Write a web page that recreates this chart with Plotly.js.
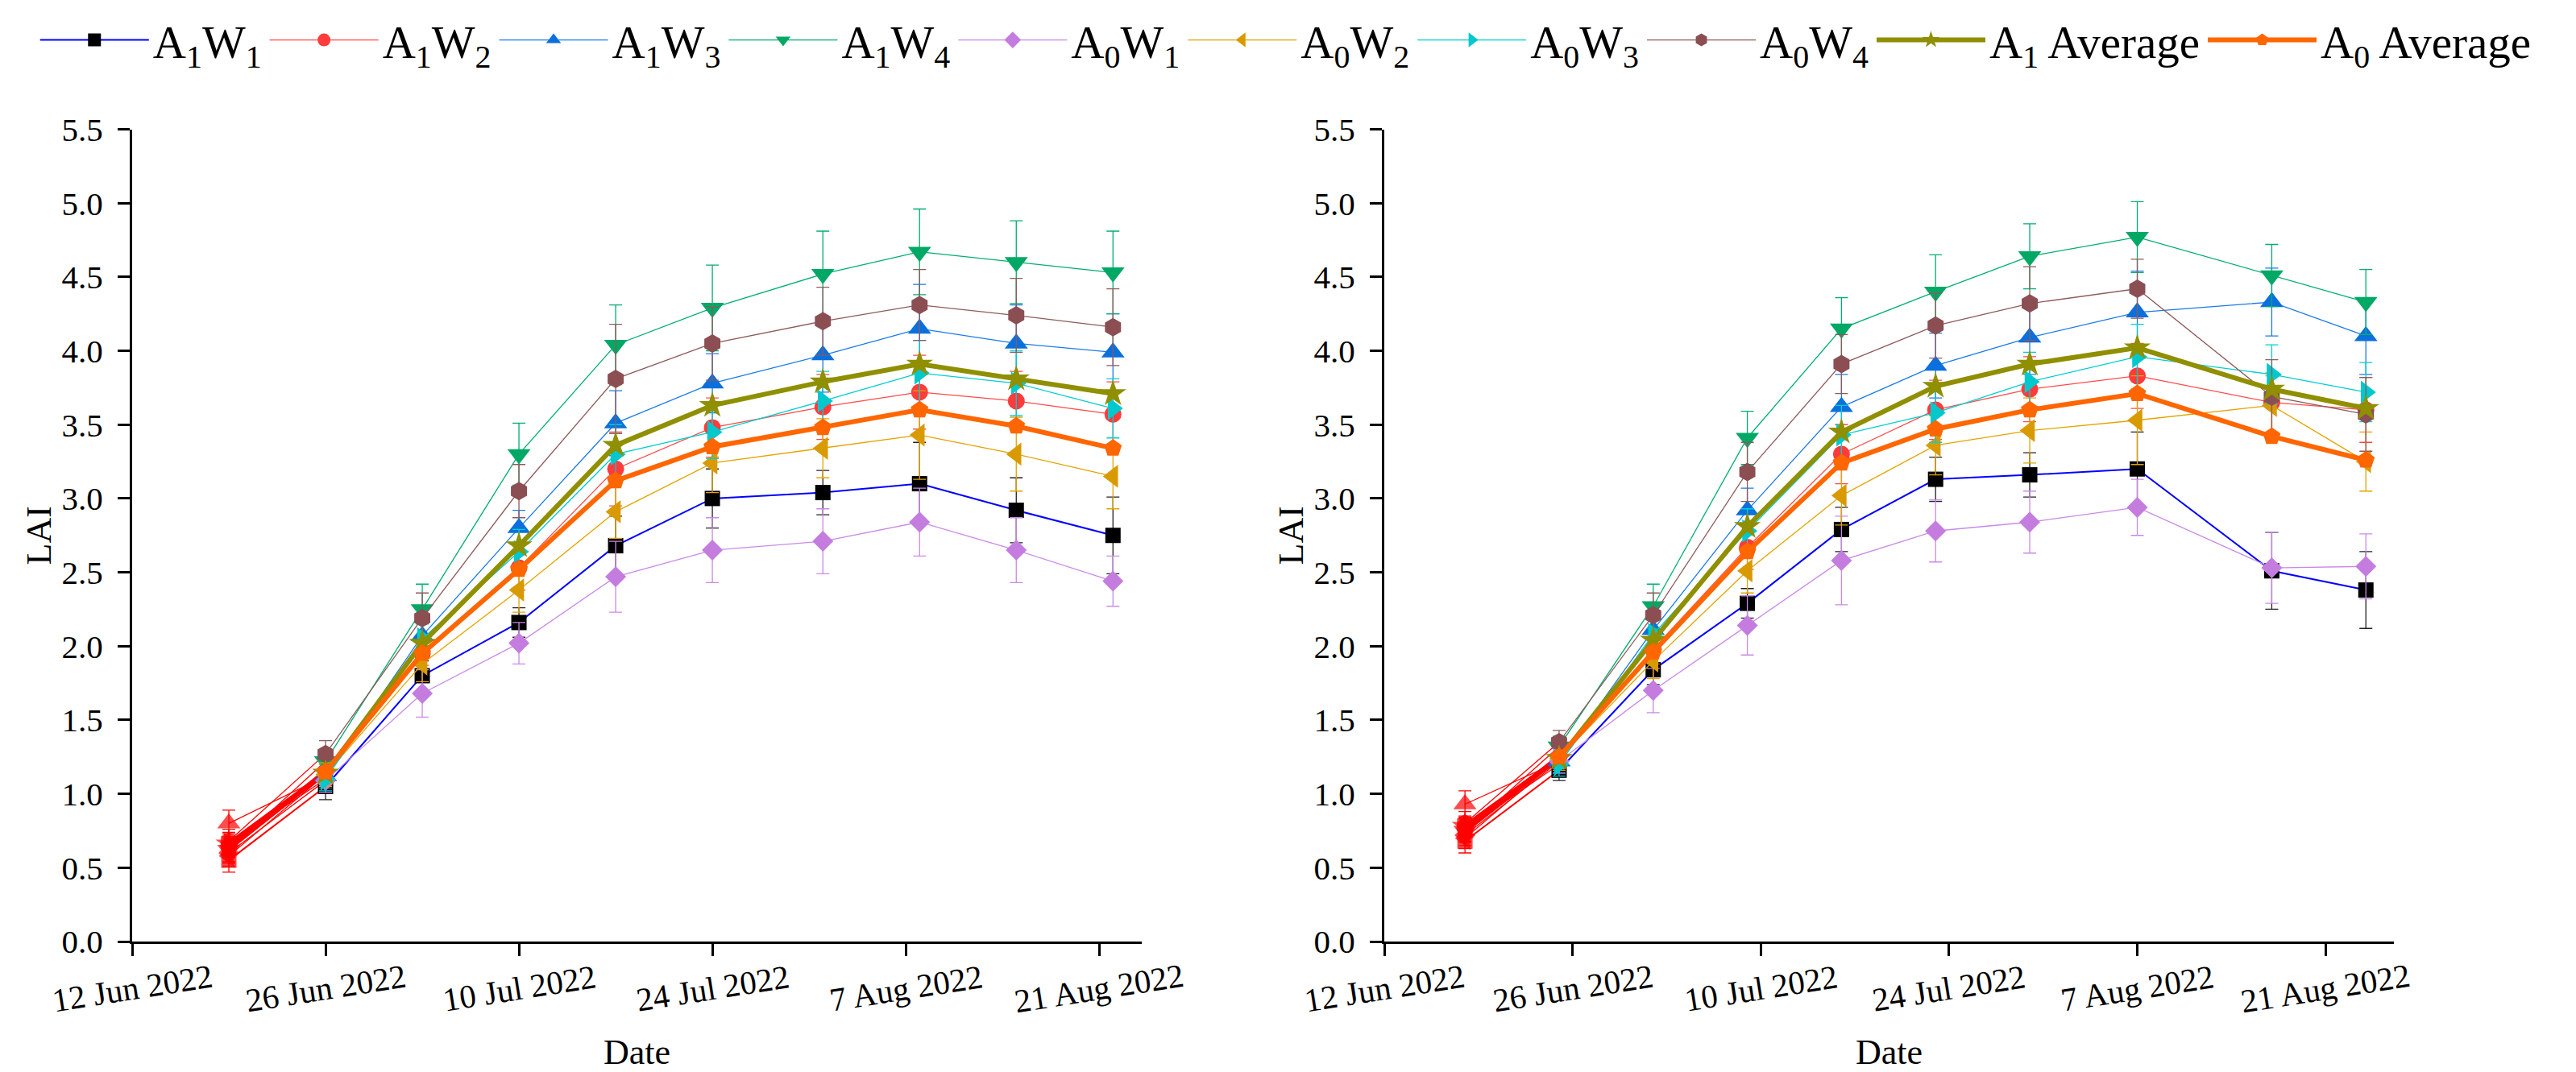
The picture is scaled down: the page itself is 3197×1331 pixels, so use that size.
<!DOCTYPE html>
<html>
<head>
<meta charset="utf-8">
<script src="https://cdn.plot.ly/plotly-3.0.1.min.js"></script>
<style>html,body{margin:0;padding:0;background:#fff;}#chart{width:3197px;height:1331px;}</style>
</head>
<body>
<div id="chart"></div>
<script>
// ---------- data ----------
const seriesNames = ['A<sub>1</sub>W<sub>1</sub>','A<sub>1</sub>W<sub>2</sub>','A<sub>1</sub>W<sub>3</sub>','A<sub>1</sub>W<sub>4</sub>',
  'A<sub>0</sub>W<sub>1</sub>','A<sub>0</sub>W<sub>2</sub>','A<sub>0</sub>W<sub>3</sub>','A<sub>0</sub>W<sub>4</sub>',
  'A<sub>1</sub> Average','A<sub>0</sub> Average'];

const tickDates = ['2022-06-12','2022-06-26','2022-07-10','2022-07-24','2022-08-07','2022-08-21'];
const tickLabels = ['12 Jun 2022','26 Jun 2022','10 Jul 2022','24 Jul 2022','7 Aug 2022','21 Aug 2022'];
const yTicks = [0,0.5,1,1.5,2,2.5,3,3.5,4,4.5,5,5.5];

// left panel
const datesL = ['2022-06-19','2022-06-26','2022-07-03','2022-07-10','2022-07-17','2022-07-24','2022-08-01','2022-08-08','2022-08-15','2022-08-22'];
const L_A1W1 = [0.55,1.05,1.80,2.16,2.68,3.00,3.04,3.10,2.92,2.75];
const L_A1W2 = [0.65,1.15,1.95,2.53,3.20,3.48,3.62,3.72,3.66,3.57];
const L_A1W3 = [0.80,1.12,2.07,2.80,3.51,3.78,3.97,4.15,4.05,3.99];
const L_A1W4 = [0.62,1.22,2.25,3.30,4.04,4.29,4.52,4.67,4.60,4.53];
const L_A0W1 = [0.60,1.09,1.68,2.02,2.47,2.65,2.71,2.84,2.65,2.44];
const L_A0W2 = [0.58,1.13,1.88,2.38,2.91,3.24,3.34,3.43,3.30,3.15];
const L_A0W3 = [0.66,1.10,2.05,2.64,3.30,3.45,3.66,3.85,3.78,3.61];
const L_A0W4 = [0.68,1.27,2.19,3.05,3.81,4.05,4.20,4.31,4.24,4.16];
const L_A1avg = [0.66,1.14,2.02,2.68,3.36,3.63,3.79,3.91,3.81,3.71];
const L_A0avg = [0.63,1.15,1.95,2.52,3.12,3.35,3.48,3.60,3.49,3.34];
const LE_A1W1 = [0.08,0.09,0.10,0.10,0.20,0.20,0.15,0.28,0.22,0.26];
const LE_A1W2 = [0.08,0.09,0.08,0.15,0.25,0.20,0.22,0.25,0.20,0.22];
const LE_A1W3 = [0.09,0.08,0.10,0.12,0.22,0.20,0.25,0.30,0.26,0.26];
const LE_A1W4 = [0.08,0.08,0.17,0.21,0.27,0.29,0.29,0.29,0.28,0.28];
const LE_A0W1 = [0.07,0.08,0.16,0.14,0.24,0.22,0.22,0.23,0.22,0.17];
const LE_A0W2 = [0.07,0.08,0.12,0.15,0.18,0.20,0.20,0.30,0.25,0.22];
const LE_A0W3 = [0.08,0.08,0.10,0.15,0.20,0.18,0.20,0.22,0.22,0.20];
const LE_A0W4 = [0.08,0.09,0.17,0.18,0.37,0.25,0.23,0.24,0.25,0.26];

// right panel
const datesR = ['2022-06-18','2022-06-25','2022-07-02','2022-07-09','2022-07-16','2022-07-23','2022-07-30','2022-08-07','2022-08-17','2022-08-24'];
const R_A1W1 = [0.68,1.16,1.84,2.29,2.79,3.13,3.16,3.20,2.51,2.38];
const R_A1W2 = [0.78,1.25,1.98,2.67,3.30,3.60,3.74,3.83,3.65,3.60];
const R_A1W3 = [0.93,1.22,2.11,2.92,3.62,3.90,4.09,4.26,4.33,4.10];
const R_A1W4 = [0.75,1.32,2.27,3.41,4.15,4.40,4.64,4.77,4.51,4.33];
const R_A0W1 = [0.72,1.22,1.70,2.14,2.58,2.78,2.84,2.94,2.53,2.54];
const R_A0W2 = [0.70,1.24,1.90,2.51,3.02,3.36,3.46,3.53,3.63,3.25];
const R_A0W3 = [0.76,1.20,2.08,2.78,3.43,3.58,3.79,3.96,3.84,3.72];
const R_A0W4 = [0.80,1.35,2.21,3.18,3.91,4.17,4.32,4.42,3.69,3.57];
const R_A1avg = [0.78,1.24,2.04,2.81,3.45,3.76,3.91,4.02,3.74,3.61];
const R_A0avg = [0.75,1.25,1.96,2.64,3.24,3.47,3.60,3.71,3.42,3.26];
const RE_A1W1 = [0.08,0.07,0.10,0.10,0.15,0.15,0.15,0.25,0.26,0.26];
const RE_A1W2 = [0.07,0.08,0.10,0.15,0.20,0.20,0.22,0.22,0.20,0.22];
const RE_A1W3 = [0.09,0.08,0.10,0.15,0.22,0.22,0.25,0.28,0.23,0.26];
const RE_A1W4 = [0.08,0.07,0.15,0.18,0.21,0.25,0.22,0.24,0.21,0.22];
const RE_A0W1 = [0.07,0.08,0.15,0.20,0.30,0.21,0.21,0.19,0.24,0.22];
const RE_A0W2 = [0.07,0.08,0.12,0.15,0.20,0.20,0.22,0.30,0.20,0.20];
const RE_A0W3 = [0.08,0.08,0.10,0.15,0.20,0.20,0.20,0.22,0.20,0.20];
const RE_A0W4 = [0.08,0.08,0.15,0.20,0.20,0.22,0.25,0.20,0.25,0.25];

// ---------- styles ----------
const styles = [
  {line:'#0000FF', marker:'#000000', err:'#222222', symbol:'square', size:19, width:2},
  {line:'#FF4A4A', marker:'#FF3B3B', err:'#FF4A4A', symbol:'circle', size:21, width:1.3},
  {line:'#1A7BE6', marker:'#0B6FDC', err:'#1A7BE6', symbol:'triangle-up', size:25, width:1.3},
  {line:'#00AF6E', marker:'#00A865', err:'#00AF6E', symbol:'triangle-down', size:25, width:1.3},
  {line:'#C98AE6', marker:'#C47DDF', err:'#C98AE6', symbol:'diamond', size:20, width:1.3},
  {line:'#E3A400', marker:'#D99A00', err:'#E3A400', symbol:'triangle-left', size:25, width:1.3},
  {line:'#00CED1', marker:'#00C8CC', err:'#00CED1', symbol:'triangle-right', size:25, width:1.3},
  {line:'#8E5A5A', marker:'#8B4E52', err:'#8E5A5A', symbol:'hexagon', size:23, width:1.3},
  {line:'#8F8F00', marker:'#8F8F00', err:null, symbol:'star', size:25, width:6},
  {line:'#FF6600', marker:'#FF6600', err:null, symbol:'pentagon', size:23, width:6}
];
const FIRST = '#FF0000';

const panels = [
  {xa:'x', ya:'y', dates:datesL,
   vals:[L_A1W1,L_A1W2,L_A1W3,L_A1W4,L_A0W1,L_A0W2,L_A0W3,L_A0W4,L_A1avg,L_A0avg],
   errs:[LE_A1W1,LE_A1W2,LE_A1W3,LE_A1W4,LE_A0W1,LE_A0W2,LE_A0W3,LE_A0W4,null,null], legend:true},
  {xa:'x2', ya:'y2', dates:datesR,
   vals:[R_A1W1,R_A1W2,R_A1W3,R_A1W4,R_A0W1,R_A0W2,R_A0W3,R_A0W4,R_A1avg,R_A0avg],
   errs:[RE_A1W1,RE_A1W2,RE_A1W3,RE_A1W4,RE_A0W1,RE_A0W2,RE_A0W3,RE_A0W4,null,null], legend:false}
];

const traces = [];
// first segments (drawn red, underneath)
panels.forEach(p => {
  p.vals.forEach((v, i) => {
    const st = styles[i];
    const e = p.errs[i];
    traces.push({
      type:'scatter', mode:'lines+markers', xaxis:p.xa, yaxis:p.ya,
      x:p.dates.slice(0,2), y:v.slice(0,2), showlegend:false, hoverinfo:'skip',
      line:{color:FIRST, width:st.width},
      marker:{symbol:st.symbol, size:[st.size,0], color:FIRST, line:{width:0}},
      error_y: e ? {type:'data', array:[e[0],0], visible:true, color:FIRST, thickness:1.3, width:8} : {visible:false}
    });
  });
});
// main series
panels.forEach(p => {
  p.vals.forEach((v, i) => {
    const st = styles[i];
    const e = p.errs[i];
    traces.push({
      type:'scatter', mode:'lines+markers', xaxis:p.xa, yaxis:p.ya,
      name:seriesNames[i], legendgroup:'g'+i, showlegend:p.legend,
      x:p.dates.slice(1), y:v.slice(1),
      line:{color:st.line, width:st.width},
      marker:{symbol:st.symbol, size:st.size, color:st.marker, line:{width:0}},
      error_y: e ? {type:'data', array:e.slice(1), visible:true, color:st.err, thickness:1.3, width:8} : {visible:false}
    });
  });
});

const FONT = 'Liberation Serif';
const yBottom = 1 - 1169/1331, yTop = 1 - 160.5/1331;

function xaxisDef(domain, rangeEnd, anchor){
  return {
    type:'date', domain:domain, range:['2022-06-12', rangeEnd],
    tickmode:'array', tickvals:tickDates, showticklabels:false,
    ticks:'outside', ticklen:15, tickwidth:3, tickcolor:'#000',
    showline:true, linecolor:'#000', linewidth:3, showgrid:false, zeroline:false,
    title:{text:'Date', font:{family:FONT, size:44, color:'#000'}, standoff:105},
    anchor:anchor, fixedrange:true
  };
}
function yaxisDef(anchor){
  return {
    domain:[yBottom, yTop], range:[0,5.5], tickmode:'array', tickvals:yTicks, tickformat:'.1f',
    ticks:'outside', ticklen:15, tickwidth:3, tickcolor:'#000', ticklabelstandoff:10,
    tickfont:{family:FONT, size:41, color:'#000'},
    showline:true, linecolor:'#000', linewidth:3, showgrid:false, zeroline:false,
    title:{text:'LAI', font:{family:FONT, size:44, color:'#000'}, standoff:0},
    anchor:anchor, fixedrange:true
  };
}

const annotations = [];
['x','x2'].forEach(xr => {
  tickDates.forEach((d, k) => {
    annotations.push({xref:xr, yref:'paper', x:d, y:yBottom, yshift:-58, text:tickLabels[k],
      showarrow:false, textangle:-9, xanchor:'center', yanchor:'middle',
      font:{family:FONT, size:41, color:'#000'}});
  });
});

const layout = {
  width:3197, height:1331, margin:{l:0, r:0, t:0, b:0},
  paper_bgcolor:'#fff', plot_bgcolor:'#fff',
  font:{family:FONT, color:'#000'},
  xaxis: xaxisDef([164/3197, 1417/3197], '2022-08-24 02:00', 'y'),
  xaxis2: xaxisDef([1718/3197, 2971/3197], '2022-08-26 02:00', 'y2'),
  yaxis: yaxisDef('x'),
  yaxis2: yaxisDef('x2'),
  showlegend:true,
  legend:{orientation:'h', x:0.014, xanchor:'left', y:1-50/1331, yanchor:'middle',
    font:{family:FONT, size:57, color:'#000'}, itemwidth:135, tracegroupgap:0, bgcolor:'rgba(0,0,0,0)'},
  annotations:annotations
};

Plotly.newPlot('chart', traces, layout, {displayModeBar:false, staticPlot:true});
</script>
</body>
</html>
